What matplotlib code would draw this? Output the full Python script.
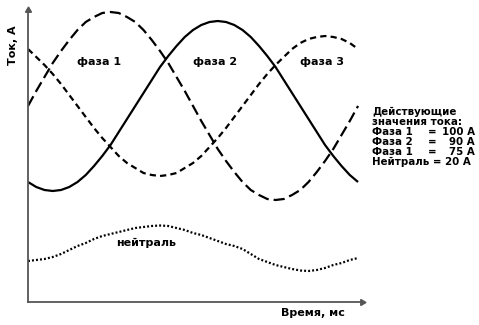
import matplotlib
matplotlib.use("Agg")
import matplotlib.pyplot as plt

plt.rcParams['lines.scale_dashes'] = False

# time, ms
t = [i * 0.5 for i in range(41)]

faza1 = [196, 211, 225, 239, 251, 262, 272, 280, 285, 289, 290, 289, 285, 280, 272, 262,
         251, 239, 225, 211, 196, 181, 167, 153, 141, 130, 120, 112, 107, 103, 102, 103,
         107, 112, 120, 130, 141, 153, 167, 181, 196]
faza2 = [120, 115, 112, 111, 112, 115, 120, 127, 136, 146, 157, 170, 183, 196, 209, 222,
         235, 246, 256, 265, 272, 277, 280, 281, 280, 277, 272, 265, 256, 246, 235, 222,
         209, 196, 183, 170, 157, 146, 136, 127, 120]
faza3 = [253, 245, 237, 228, 218, 207, 196, 185, 174, 164, 155, 146, 139, 134, 129, 127,
         126, 127, 129, 134, 139, 146, 155, 164, 174, 185, 196, 207, 218, 228, 237, 245,
         253, 259, 263, 265, 266, 265, 263, 259, 253]
neutral = [41, 42, 43, 45, 48, 52, 56, 59, 63, 66, 68, 70, 72, 74, 75, 76, 76.5, 76, 74, 72,
           69, 67, 64, 61, 58, 56, 53, 48, 43, 40, 37, 35, 33, 31.5, 31, 32, 34, 37, 39, 42, 44]

phase_labels = ["фаза 1", "фаза 2", "фаза 3"]
neutral_label = "нейтраль"
ylabel = "Ток, А"
xlabel = "Время, мс"
legend_title = ["Действующие", "значения тока:"]
legend_names = ["Фаза 1", "Фаза 2", "Фаза 1"]
legend_values = ["100 А", "90 А", "75 А"]
legend_neutral = "Нейтраль = 20 А"

W, H = 479, 325
fig = plt.figure(figsize=(W / 100, H / 100), dpi=100)

def fx(px):
    return px / W

def fy(py):
    return 1 - py / H

ax = fig.add_axes([fx(28), fy(302), fx(362) - fx(28), fy(10) - fy(302)])
ax.set_xlim(0, 20.24)
ax.set_ylim(0, 292)
for s in ['top', 'right']:
    ax.spines[s].set_visible(False)
for s in ['left', 'bottom']:
    ax.spines[s].set_color('#555555')
    ax.spines[s].set_linewidth(1.3)
ax.set_xticks([])
ax.set_yticks([])
ax.plot(1, 0, marker=(3, 0, -90), color='#555555', ms=5, transform=ax.transAxes, clip_on=False)
ax.plot(0, 1, marker=(3, 0, 0), color='#555555', ms=5, transform=ax.transAxes, clip_on=False)

lw = 1.6
l1, = ax.plot(t, faza1, color='black', lw=lw)
l1.set_dashes((8.0, 3.6))
ax.plot(t, faza2, color='black', lw=lw, solid_capstyle='butt')
l3, = ax.plot(t, faza3, color='black', lw=lw)
l3.set_dashes((4.5, 3.0))
ln, = ax.plot(t, neutral, color='black', lw=lw)
ln.set_dashes((1.4, 1.5))

bold = dict(fontfamily='DejaVu Sans', fontweight='bold', color='black')

for label, px in zip(phase_labels, [99, 215, 322]):
    fig.text(fx(px), fy(62), label, ha='center', va='center', fontsize=8, **bold)
fig.text(fx(146), fy(243), neutral_label, ha='center', va='center', fontsize=8, **bold)
fig.text(fx(313), fy(313), xlabel, ha='center', va='center', fontsize=8, **bold)
fig.text(fx(13), fy(45), ylabel, ha='center', va='center', rotation=90, fontsize=8, **bold)

fs = 7.4
ys = [112, 122, 132, 142, 152, 162]
fig.text(fx(372), fy(ys[0]), legend_title[0], ha='left', va='center', fontsize=fs, **bold)
fig.text(fx(372), fy(ys[1]), legend_title[1], ha='left', va='center', fontsize=fs, **bold)
for i in range(3):
    y = ys[2 + i]
    fig.text(fx(372), fy(y), legend_names[i], ha='left', va='center', fontsize=fs, **bold)
    fig.text(fx(432), fy(y), "=", ha='center', va='center', fontsize=fs, **bold)
    fig.text(fx(475), fy(y), legend_values[i], ha='right', va='center', fontsize=fs, **bold)
fig.text(fx(372), fy(ys[5]), legend_neutral, ha='left', va='center', fontsize=fs, **bold)

fig.savefig("out.png", dpi=100)
